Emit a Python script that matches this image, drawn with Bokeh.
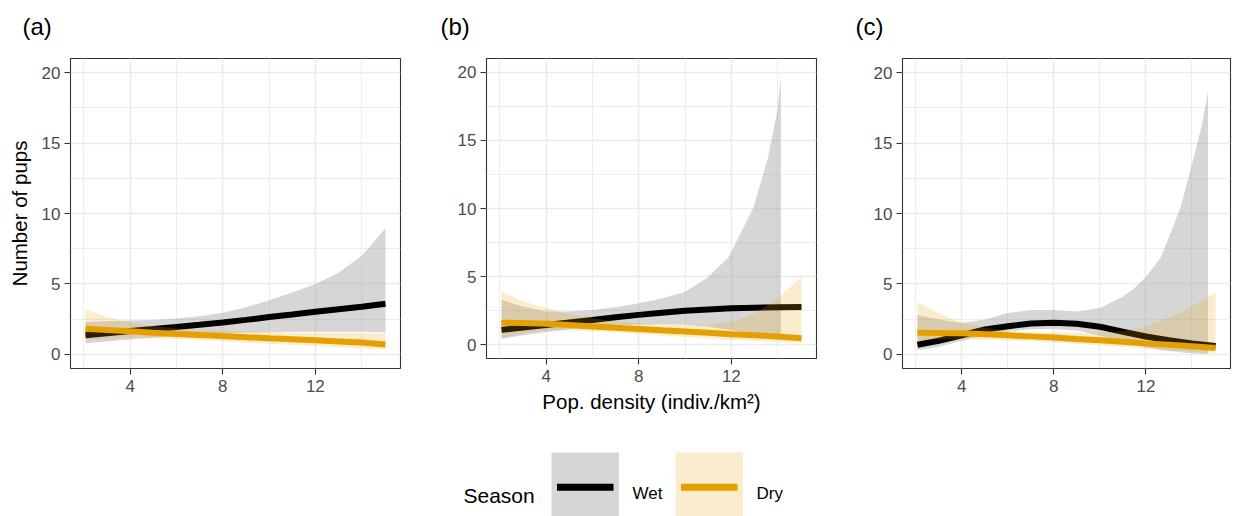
from bokeh.plotting import figure
from bokeh.layouts import row, column
from bokeh.models import FixedTicker, Range1d
from bokeh.embed import file_html
from bokeh.resources import INLINE
from bokeh.core.properties import value

# ---------------- data ----------------
x_fit = [2.07, 3, 4, 5, 6, 7, 8, 9, 10, 11, 12, 13, 14, 15.03]

# panel (a)
a_wet_fit = [1.36, 1.50, 1.66, 1.80, 1.95, 2.10, 2.27, 2.45, 2.65, 2.83, 3.02, 3.20, 3.38, 3.60]
a_wet_lo = [0.80, 0.92, 1.05, 1.18, 1.30, 1.42, 1.50, 1.55, 1.58, 1.60, 1.60, 1.60, 1.60, 1.58]
a_wet_hi = [2.30, 2.35, 2.40, 2.45, 2.55, 2.70, 2.95, 3.35, 3.85, 4.40, 5.00, 5.80, 7.00, 8.95]
a_dry_fit = [1.82, 1.73, 1.64, 1.54, 1.45, 1.37, 1.30, 1.22, 1.14, 1.07, 1.00, 0.92, 0.84, 0.70]
a_dry_lo = [1.05, 1.12, 1.20, 1.17, 1.10, 1.03, 0.95, 0.85, 0.75, 0.67, 0.60, 0.50, 0.42, 0.34]
a_dry_hi = [3.20, 2.65, 2.25, 2.00, 1.85, 1.75, 1.68, 1.62, 1.58, 1.55, 1.53, 1.52, 1.50, 1.48]

# panel (b)
b_wet_fit = [1.10, 1.28, 1.46, 1.65, 1.83, 2.02, 2.20, 2.36, 2.50, 2.60, 2.68, 2.73, 2.76, 2.77]
b_wet_band_x = [2.07, 3, 4, 5, 6, 7, 8, 9, 10, 10.95, 11.87, 12.94, 13.58, 14.0, 14.14]
b_wet_lo = [0.45, 0.70, 0.95, 1.15, 1.30, 1.42, 1.50, 1.52, 1.48, 1.35, 1.10, 0.80, 0.60, 0.50, 0.45]
b_wet_hi = [3.30, 2.80, 2.45, 2.45, 2.56, 2.75, 3.05, 3.40, 3.90, 4.90, 6.40, 10.0, 13.7, 17.3, 19.66]
b_dry_fit = [1.63, 1.60, 1.54, 1.45, 1.34, 1.25, 1.17, 1.07, 0.98, 0.88, 0.78, 0.70, 0.61, 0.49]
b_dry_lo = [0.50, 0.85, 1.05, 1.05, 0.98, 0.90, 0.80, 0.68, 0.57, 0.47, 0.38, 0.30, 0.22, 0.14]
b_dry_hi = [3.90, 3.20, 2.68, 2.25, 1.95, 1.72, 1.59, 1.50, 1.46, 1.50, 1.70, 2.30, 3.40, 5.00]

# panel (c)
c_wet_fit = [0.69, 0.97, 1.36, 1.77, 2.00, 2.19, 2.24, 2.17, 1.96, 1.61, 1.27, 1.01, 0.78, 0.60]
c_wet_band_x = [2.07, 3, 4, 5, 6, 7, 8, 9, 10, 11, 11.5, 12, 12.64, 13, 13.5, 14.07, 14.43, 14.7]
c_wet_lo = [0.30, 0.55, 0.97, 1.40, 1.65, 1.78, 1.80, 1.70, 1.35, 0.90, 0.70, 0.50, 0.32, 0.25, 0.15, 0.08, 0.05, 0.04]
c_wet_hi = [2.80, 2.47, 2.23, 2.47, 2.93, 3.16, 3.16, 3.05, 3.30, 4.10, 4.70, 5.50, 6.85, 8.30, 10.4, 13.9, 16.25, 18.7]
c_dry_fit = [1.54, 1.52, 1.50, 1.43, 1.36, 1.28, 1.20, 1.10, 1.01, 0.90, 0.78, 0.68, 0.58, 0.46]
c_dry_lo = [1.00, 1.05, 1.08, 1.05, 1.00, 0.93, 0.85, 0.75, 0.65, 0.53, 0.42, 0.30, 0.20, 0.10]
c_dry_hi = [3.70, 2.90, 2.23, 1.89, 1.66, 1.58, 1.54, 1.52, 1.54, 1.66, 2.00, 2.58, 3.40, 4.45]

x_ticks = [4, 8, 12]
x_minor = [2, 6, 10, 14]
y_ticks = [0, 5, 10, 15, 20]
y_minor = [2.5, 7.5, 12.5, 17.5]
panel_tags = ["(a)", "(b)", "(c)"]
seasons = ["Wet", "Dry"]
line_colors = ["#000000", "#E69F00"]
band_colors = ["#999999", "#E69F00"]
band_alphas = [0.4, 0.2]
y_title = "Number of pups"
x_title = "Pop. density (indiv./km\u00b2)"
legend_title = "Season"

FONT = "Liberation Sans"
ROW_H = 440


def make_panel(tag, width, bl, br, bb, tag_offset, series, ylabel=None, xlabel=None):
    p = figure(width=width, height=ROW_H,
               x_range=Range1d(1.422, 15.678), y_range=Range1d(-1, 21),
               output_backend="svg", toolbar_location=None,
               min_border_left=bl, min_border_right=br,
               min_border_top=58, min_border_bottom=bb, title=tag + "\n")
    p.title.align = "left"
    p.title.offset = tag_offset
    p.title.standoff = 10
    p.title.text_font = FONT
    p.title.text_font_size = "24px"
    p.title.text_line_height = 0.5
    p.title.text_font_style = "normal"
    p.title.text_color = "#000000"

    p.background_fill_color = "white"
    p.border_fill_color = "white"
    p.outline_line_color = "#333333"
    p.outline_line_width = 1.1

    p.xaxis.ticker = FixedTicker(ticks=x_ticks, minor_ticks=x_minor)
    p.yaxis.ticker = FixedTicker(ticks=y_ticks, minor_ticks=y_minor)
    for ax in (p.xaxis, p.yaxis):
        ax.axis_line_color = None
        ax.major_tick_line_color = "#333333"
        ax.major_tick_line_width = 1.1
        ax.major_tick_out = 6
        ax.major_tick_in = 0
        ax.minor_tick_line_color = None
        ax.major_label_text_font = FONT
        ax.major_label_text_font_size = "17px"
        ax.major_label_text_color = "#4D4D4D"
        ax.axis_label_text_font = FONT
        ax.axis_label_text_font_size = "20.5px"
        ax.axis_label_text_font_style = "normal"
        ax.axis_label_text_color = "#000000"
    p.xaxis.major_label_standoff = 5
    p.yaxis.major_label_standoff = 4
    if ylabel:
        p.yaxis.axis_label = ylabel
        p.yaxis.axis_label_standoff = 8
    if xlabel:
        p.xaxis.axis_label = xlabel
        p.xaxis.axis_label_standoff = 5

    for g in (p.xgrid, p.ygrid):
        g.grid_line_color = "#EBEBEB"
        g.grid_line_width = 1.6
        g.minor_grid_line_color = "#EBEBEB"
        g.minor_grid_line_width = 0.9

    for i, (bx, lo, hi, fx, fy) in enumerate(series):
        p.varea(x=bx, y1=lo, y2=hi, fill_color=band_colors[i], fill_alpha=band_alphas[i])
        p.line(x=fx, y=fy, line_color=line_colors[i], line_width=6)
    return p


pa = make_panel(panel_tags[0], 420, 70, 20, 72, -48,
                [(x_fit, a_wet_lo, a_wet_hi, x_fit, a_wet_fit),
                 (x_fit, a_dry_lo, a_dry_hi, x_fit, a_dry_fit)], ylabel=y_title)
pb = make_panel(panel_tags[1], 410, 66, 14, 82, -46,
                [(b_wet_band_x, b_wet_lo, b_wet_hi, x_fit, b_wet_fit),
                 (x_fit, b_dry_lo, b_dry_hi, x_fit, b_dry_fit)], xlabel=x_title)
pc = make_panel(panel_tags[2], 406, 72, 6, 72, -47,
                [(c_wet_band_x, c_wet_lo, c_wet_hi, x_fit, c_wet_fit),
                 (x_fit, c_dry_lo, c_dry_hi, x_fit, c_dry_fit)])

# ---------------- legend strip (drawn in pixel coordinates) ----------------
LW, LH = 1236, 76
leg = figure(width=LW, height=LH, x_range=Range1d(0, LW), y_range=Range1d(0, LH),
             output_backend="svg", toolbar_location=None, min_border=0,
             x_axis_type=None, y_axis_type=None)
leg.outline_line_color = None
leg.background_fill_color = "white"
leg.border_fill_color = "white"
leg.grid.visible = False

title_x, key_x0, key_w, key_step, key_top, line_y = 463, 551, 67.5, 124, 64, 29.3
leg.text(x=[title_x], y=[20.7], text=[legend_title], text_font=value(FONT),
         text_font_size="21px", text_baseline="alphabetic", text_align="left", text_color="#000000")
for i, s in enumerate(seasons):
    k0 = key_x0 + i * key_step
    leg.quad(left=[k0], right=[k0 + key_w], bottom=[-20], top=[key_top],
             fill_color=band_colors[i], fill_alpha=band_alphas[i], line_color=None)
    leg.segment(x0=[k0 + 5.5], x1=[k0 + key_w - 5.5], y0=[line_y], y1=[line_y],
                line_color=line_colors[i], line_width=7)
    leg.text(x=[k0 + key_w + 13.5], y=[23.3], text=[s], text_font=value(FONT),
             text_font_size="17px", text_baseline="alphabetic", text_align="left", text_color="#000000")

# each panel in its own column so that the row does not align their frames
layout = column(row(column(pa), column(pb), column(pc)), leg)
open("out.html", "w").write(file_html(layout, INLINE))
